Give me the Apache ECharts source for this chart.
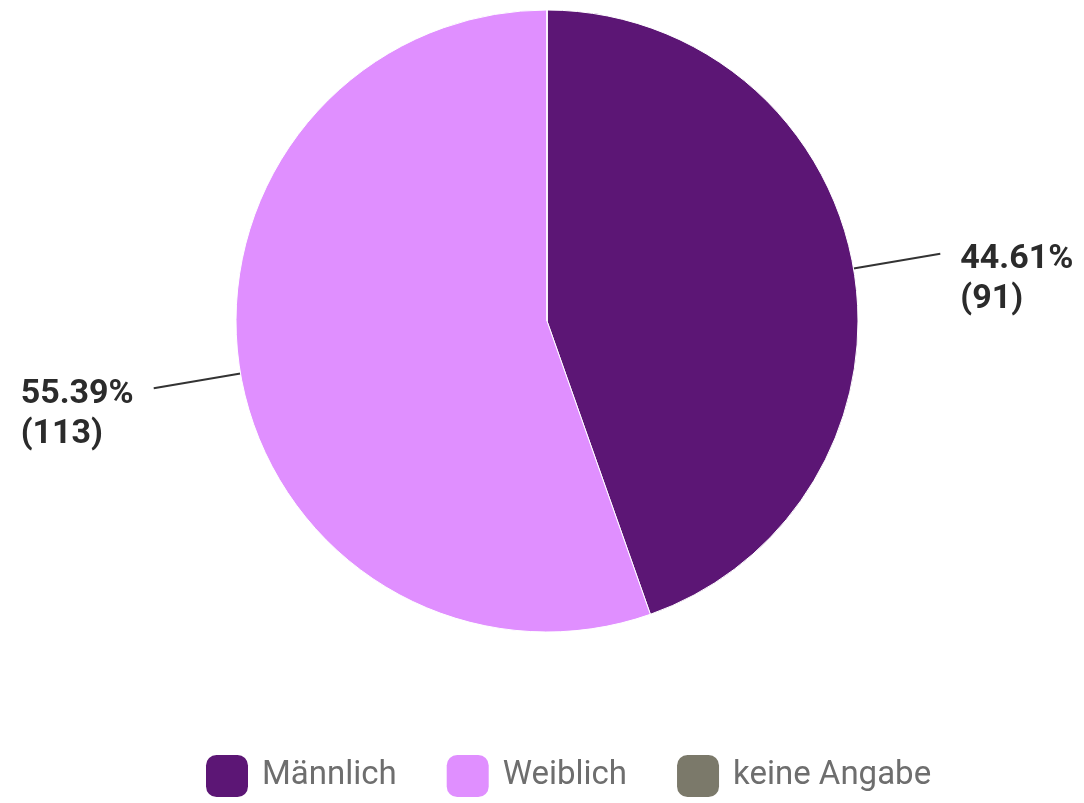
<!DOCTYPE html>
<html>
<head>
<meta charset="utf-8">
<script src="https://cdn.jsdelivr.net/npm/echarts@6/dist/echarts.min.js"></script>
<style>html,body{margin:0;padding:0;background:#fff}#c{width:1084px;height:803px}</style>
</head>
<body>
<div id="c"></div>
<script>
const categories = ['Männlich', 'Weiblich', 'keine Angabe'];
const values = [91, 113, 0];
const colors = ['#5c1675', '#e08fff', '#7b796a'];

const chart = echarts.init(document.getElementById('c'));
const data = categories.map((name, i) => {
  const item = { name: name, value: values[i], itemStyle: { color: colors[i] } };
  if (values[i] === 0) { item.label = { show: false }; item.labelLine = { show: false }; }
  return item;
});
chart.setOption({
  animation: false,
  legend: {
    bottom: 1,
    left: 201,
    itemWidth: 42,
    itemHeight: 42,
    itemGap: 50,
    icon: 'roundRect',
    itemStyle: { borderWidth: 0 },
    textStyle: { fontFamily: 'Roboto', fontSize: 33, color: '#6e6e6e', padding: [0, 0, 0, 9] },
    data: categories
  },
  series: [{
    type: 'pie',
    center: [547, 321],
    radius: 311,
    startAngle: 90,
    clockwise: true,
    percentPrecision: 2,
    itemStyle: { borderColor: '#ffffff', borderWidth: 1 },
    label: {
      show: true,
      formatter: p => '{a|' + p.percent.toFixed(2) + '%}\n{a|(' + p.value + ')}',
      padding: [52, 0, 0, 0],
      distanceToLabelLine: 20,
      rich: {
        a: {
          fontFamily: 'Roboto',
          fontWeight: 'bold',
          fontSize: 34,
          lineHeight: 40,
          color: '#2b2b2b',
          align: 'left'
        }
      }
    },
    labelLine: {
      show: true,
      length: 88,
      length2: 0,
      lineStyle: { color: '#333333', width: 2 }
    },
    data: data
  }]
});
</script>
</body>
</html>
